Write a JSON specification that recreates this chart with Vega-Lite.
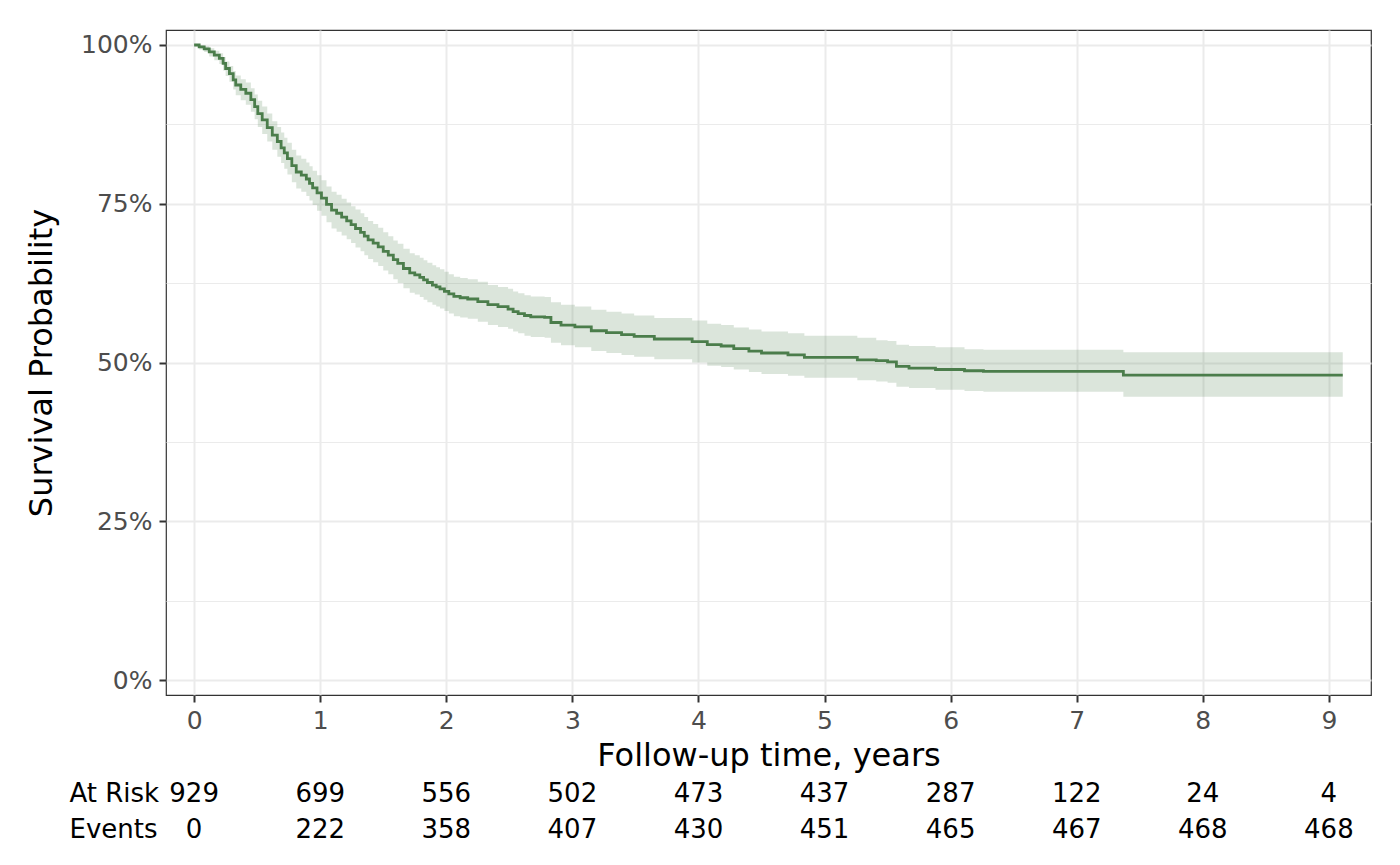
{
  "$schema": "https://vega.github.io/schema/vega-lite/v6.json",
  "background": "white",
  "padding": {"left": 24, "top": 29, "right": 0, "bottom": 0},
  "config": {"font": "DejaVu Sans", "view": {"stroke": null}},
  "spacing": 3.5,
  "datasets": {
    "km": [
      {"t":0,"s":1,"lo":1,"hi":1},
      {"t":0.04,"s":0.997,"lo":0.993,"hi":0.999},
      {"t":0.08,"s":0.994,"lo":0.989,"hi":0.998},
      {"t":0.12,"s":0.989,"lo":0.982,"hi":0.995},
      {"t":0.16,"s":0.984,"lo":0.976,"hi":0.991},
      {"t":0.20,"s":0.979,"lo":0.970,"hi":0.987},
      {"t":0.23,"s":0.971,"lo":0.960,"hi":0.981},
      {"t":0.25,"s":0.963,"lo":0.951,"hi":0.974},
      {"t":0.28,"s":0.955,"lo":0.942,"hi":0.967},
      {"t":0.31,"s":0.945,"lo":0.930,"hi":0.959},
      {"t":0.33,"s":0.937,"lo":0.921,"hi":0.952},
      {"t":0.37,"s":0.930,"lo":0.913,"hi":0.946},
      {"t":0.41,"s":0.924,"lo":0.906,"hi":0.941},
      {"t":0.45,"s":0.914,"lo":0.895,"hi":0.932},
      {"t":0.48,"s":0.903,"lo":0.883,"hi":0.922},
      {"t":0.505,"s":0.892,"lo":0.871,"hi":0.912},
      {"t":0.54,"s":0.882,"lo":0.860,"hi":0.903},
      {"t":0.58,"s":0.870,"lo":0.848,"hi":0.892},
      {"t":0.62,"s":0.858,"lo":0.835,"hi":0.880},
      {"t":0.66,"s":0.848,"lo":0.824,"hi":0.871},
      {"t":0.69,"s":0.838,"lo":0.814,"hi":0.862},
      {"t":0.715,"s":0.830,"lo":0.805,"hi":0.854},
      {"t":0.74,"s":0.821,"lo":0.796,"hi":0.846},
      {"t":0.775,"s":0.810,"lo":0.784,"hi":0.835},
      {"t":0.81,"s":0.800,"lo":0.774,"hi":0.826},
      {"t":0.85,"s":0.795,"lo":0.769,"hi":0.821},
      {"t":0.89,"s":0.789,"lo":0.762,"hi":0.815},
      {"t":0.915,"s":0.782,"lo":0.755,"hi":0.809},
      {"t":0.94,"s":0.775,"lo":0.748,"hi":0.802},
      {"t":0.975,"s":0.767,"lo":0.739,"hi":0.795},
      {"t":1.01,"s":0.759,"lo":0.731,"hi":0.787},
      {"t":1.05,"s":0.749,"lo":0.721,"hi":0.777},
      {"t":1.09,"s":0.740,"lo":0.711,"hi":0.769},
      {"t":1.13,"s":0.735,"lo":0.706,"hi":0.764},
      {"t":1.17,"s":0.729,"lo":0.700,"hi":0.758},
      {"t":1.21,"s":0.723,"lo":0.694,"hi":0.752},
      {"t":1.245,"s":0.717,"lo":0.688,"hi":0.746},
      {"t":1.28,"s":0.711,"lo":0.681,"hi":0.741},
      {"t":1.32,"s":0.705,"lo":0.675,"hi":0.735},
      {"t":1.35,"s":0.699,"lo":0.669,"hi":0.729},
      {"t":1.38,"s":0.693,"lo":0.663,"hi":0.723},
      {"t":1.42,"s":0.688,"lo":0.658,"hi":0.718},
      {"t":1.46,"s":0.682,"lo":0.652,"hi":0.712},
      {"t":1.50,"s":0.675,"lo":0.645,"hi":0.705},
      {"t":1.54,"s":0.669,"lo":0.639,"hi":0.699},
      {"t":1.58,"s":0.662,"lo":0.631,"hi":0.692},
      {"t":1.615,"s":0.656,"lo":0.625,"hi":0.687},
      {"t":1.66,"s":0.648,"lo":0.617,"hi":0.679},
      {"t":1.71,"s":0.641,"lo":0.610,"hi":0.672},
      {"t":1.75,"s":0.638,"lo":0.607,"hi":0.669},
      {"t":1.79,"s":0.634,"lo":0.603,"hi":0.665},
      {"t":1.82,"s":0.630,"lo":0.599,"hi":0.661},
      {"t":1.85,"s":0.626,"lo":0.595,"hi":0.657},
      {"t":1.89,"s":0.622,"lo":0.591,"hi":0.653},
      {"t":1.92,"s":0.619,"lo":0.588,"hi":0.650},
      {"t":1.95,"s":0.616,"lo":0.585,"hi":0.647},
      {"t":1.985,"s":0.612,"lo":0.581,"hi":0.643},
      {"t":2.02,"s":0.608,"lo":0.577,"hi":0.639},
      {"t":2.06,"s":0.604,"lo":0.573,"hi":0.635},
      {"t":2.11,"s":0.602,"lo":0.571,"hi":0.633},
      {"t":2.17,"s":0.600,"lo":0.569,"hi":0.631},
      {"t":2.25,"s":0.596,"lo":0.564,"hi":0.627},
      {"t":2.33,"s":0.591,"lo":0.559,"hi":0.622},
      {"t":2.41,"s":0.588,"lo":0.556,"hi":0.619},
      {"t":2.49,"s":0.584,"lo":0.553,"hi":0.616},
      {"t":2.53,"s":0.580,"lo":0.549,"hi":0.612},
      {"t":2.57,"s":0.577,"lo":0.546,"hi":0.609},
      {"t":2.62,"s":0.574,"lo":0.542,"hi":0.606},
      {"t":2.67,"s":0.572,"lo":0.540,"hi":0.604},
      {"t":2.78,"s":0.571,"lo":0.539,"hi":0.603},
      {"t":2.83,"s":0.563,"lo":0.531,"hi":0.595},
      {"t":2.91,"s":0.559,"lo":0.527,"hi":0.591},
      {"t":3.02,"s":0.556,"lo":0.524,"hi":0.588},
      {"t":3.15,"s":0.550,"lo":0.518,"hi":0.583},
      {"t":3.27,"s":0.547,"lo":0.515,"hi":0.580},
      {"t":3.39,"s":0.544,"lo":0.512,"hi":0.577},
      {"t":3.49,"s":0.541,"lo":0.509,"hi":0.574},
      {"t":3.65,"s":0.537,"lo":0.505,"hi":0.570},
      {"t":3.95,"s":0.533,"lo":0.500,"hi":0.566},
      {"t":4.07,"s":0.528,"lo":0.495,"hi":0.561},
      {"t":4.18,"s":0.526,"lo":0.493,"hi":0.559},
      {"t":4.28,"s":0.522,"lo":0.489,"hi":0.555},
      {"t":4.40,"s":0.518,"lo":0.485,"hi":0.552},
      {"t":4.50,"s":0.515,"lo":0.482,"hi":0.549},
      {"t":4.71,"s":0.512,"lo":0.479,"hi":0.546},
      {"t":4.84,"s":0.508,"lo":0.476,"hi":0.542},
      {"t":5.26,"s":0.504,"lo":0.472,"hi":0.539},
      {"t":5.41,"s":0.503,"lo":0.470,"hi":0.535},
      {"t":5.50,"s":0.501,"lo":0.468,"hi":0.534},
      {"t":5.57,"s":0.494,"lo":0.462,"hi":0.528},
      {"t":5.67,"s":0.491,"lo":0.460,"hi":0.526},
      {"t":5.88,"s":0.489,"lo":0.457,"hi":0.524},
      {"t":6.11,"s":0.487,"lo":0.455,"hi":0.521},
      {"t":6.26,"s":0.486,"lo":0.454,"hi":0.520},
      {"t":7.37,"s":0.480,"lo":0.446,"hi":0.516},
      {"t":9.11,"s":0.480,"lo":0.446,"hi":0.516}
    ],
    "risk": [
      {"row":"At Risk","t":0,"n":"929"},
      {"row":"At Risk","t":1,"n":"699"},
      {"row":"At Risk","t":2,"n":"556"},
      {"row":"At Risk","t":3,"n":"502"},
      {"row":"At Risk","t":4,"n":"473"},
      {"row":"At Risk","t":5,"n":"437"},
      {"row":"At Risk","t":6,"n":"287"},
      {"row":"At Risk","t":7,"n":"122"},
      {"row":"At Risk","t":8,"n":"24"},
      {"row":"At Risk","t":9,"n":"4"},
      {"row":"Events","t":0,"n":"0"},
      {"row":"Events","t":1,"n":"222"},
      {"row":"Events","t":2,"n":"358"},
      {"row":"Events","t":3,"n":"407"},
      {"row":"Events","t":4,"n":"430"},
      {"row":"Events","t":5,"n":"451"},
      {"row":"Events","t":6,"n":"465"},
      {"row":"Events","t":7,"n":"467"},
      {"row":"Events","t":8,"n":"468"},
      {"row":"Events","t":9,"n":"468"}
    ]
  },
  "vconcat": [
    {
      "width": 1205,
      "height": 665,
      "view": {"stroke": "#333333", "strokeWidth": 1.2},
      "data": {"name": "km"},
      "encoding": {
        "x": {
          "field": "t", "type": "quantitative",
          "scale": {"domain": [-0.223, 9.334], "nice": false, "zero": false},
          "axis": {
            "values": [0,0.5,1,1.5,2,2.5,3,3.5,4,4.5,5,5.5,6,6.5,7,7.5,8,8.5,9],
            "title": "Follow-up time, years",
            "format": "d",
            "labelExpr": "datum.value % 1 === 0 ? datum.label : ''",
            "grid": true,
            "gridColor": "#ebebeb",
            "gridWidth": {"condition": {"test": "datum.value % 1 === 0", "value": 2}, "value": 1},
            "tickOpacity": {"condition": {"test": "datum.value % 1 === 0", "value": 1}, "value": 0},
            "tickColor": "#333333", "tickWidth": 2, "tickSize": 7,
            "domain": false,
            "labelFont": "DejaVu Sans", "labelFontSize": 25, "labelColor": "#4d4d4d",
            "labelPadding": 6, "labelOverlap": false, "labelFlush": false,
            "titleFont": "DejaVu Sans", "titleFontSize": 32, "titleFontWeight": "normal",
            "titleColor": "black", "titlePadding": 7
          }
        }
      },
      "layer": [
        {
          "mark": {"type": "area", "interpolate": "step-after", "color": "#4b7d4b", "opacity": 0.2},
          "encoding": {
            "y": {
              "field": "lo", "type": "quantitative",
              "scale": {"domain": [-0.0236, 1.0236], "nice": false, "zero": false},
              "axis": {
                "values": [0,0.125,0.25,0.375,0.5,0.625,0.75,0.875,1],
                "title": "Survival Probability",
                "labelExpr": "(datum.value * 8) % 2 === 0 ? format(datum.value, '.0%') : ''",
                "grid": true,
                "gridColor": "#ebebeb",
                "gridWidth": {"condition": {"test": "(datum.value * 8) % 2 === 0", "value": 2}, "value": 1},
                "tickOpacity": {"condition": {"test": "(datum.value * 8) % 2 === 0", "value": 1}, "value": 0},
                "tickColor": "#333333", "tickWidth": 2, "tickSize": 7,
                "domain": false,
                "labelFont": "DejaVu Sans", "labelFontSize": 25, "labelColor": "#4d4d4d",
                "labelPadding": 7, "labelOverlap": false, "labelFlush": false,
                "titleFont": "DejaVu Sans", "titleFontSize": 32, "titleFontWeight": "normal",
                "titleColor": "black", "titlePadding": 22
              }
            },
            "y2": {"field": "hi"}
          }
        },
        {
          "mark": {"type": "line", "interpolate": "step-after", "color": "#4b7d4b", "strokeWidth": 2.8},
          "encoding": {
            "y": {
              "field": "s", "type": "quantitative",
              "scale": {"domain": [-0.0236, 1.0236], "nice": false, "zero": false},
              "axis": {
                "values": [0,0.125,0.25,0.375,0.5,0.625,0.75,0.875,1],
                "title": "Survival Probability",
                "labelExpr": "(datum.value * 8) % 2 === 0 ? format(datum.value, '.0%') : ''",
                "grid": true,
                "gridColor": "#ebebeb",
                "gridWidth": {"condition": {"test": "(datum.value * 8) % 2 === 0", "value": 2}, "value": 1},
                "tickOpacity": {"condition": {"test": "(datum.value * 8) % 2 === 0", "value": 1}, "value": 0},
                "tickColor": "#333333", "tickWidth": 2, "tickSize": 7,
                "domain": false,
                "labelFont": "DejaVu Sans", "labelFontSize": 25, "labelColor": "#4d4d4d",
                "labelPadding": 7, "labelOverlap": false, "labelFlush": false,
                "titleFont": "DejaVu Sans", "titleFontSize": 32, "titleFontWeight": "normal",
                "titleColor": "black", "titlePadding": 22
              }
            }
          }
        }
      ]
    },
    {
      "width": 1205,
      "height": 72,
      "view": {"stroke": null},
      "data": {"name": "risk"},
      "mark": {"type": "text", "font": "DejaVu Sans", "fontSize": 26, "color": "black"},
      "encoding": {
        "x": {
          "field": "t", "type": "quantitative",
          "scale": {"domain": [-0.223, 9.334], "nice": false, "zero": false},
          "axis": null
        },
        "y": {
          "field": "row", "type": "nominal", "sort": ["At Risk", "Events"],
          "axis": {
            "title": null, "domain": false, "ticks": false, "grid": false,
            "labelAlign": "left", "labelPadding": 97,
            "labelFont": "DejaVu Sans", "labelFontSize": 26, "labelColor": "black"
          }
        },
        "text": {"field": "n"}
      }
    }
  ]
}
